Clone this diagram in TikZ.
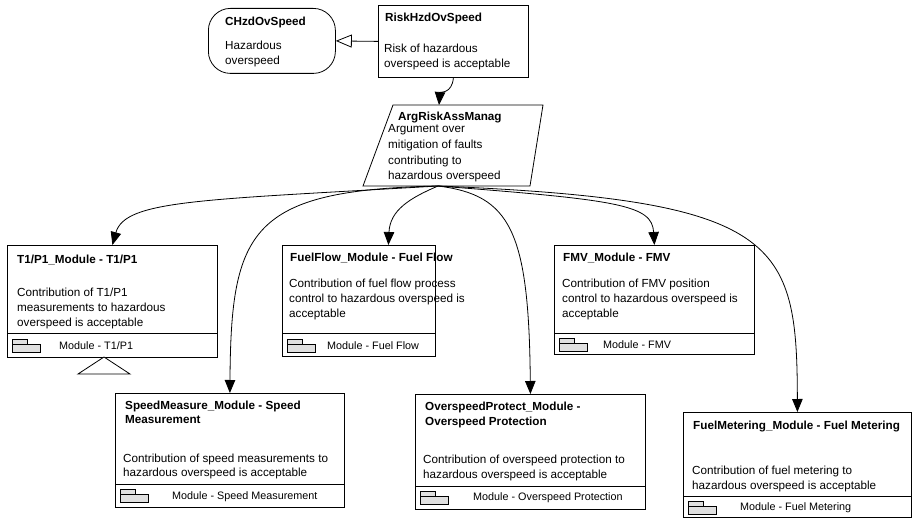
\documentclass[tikz,border=0pt]{standalone}
\usepackage{fontspec}
\setmainfont{Liberation Sans}
\usetikzlibrary{arrows.meta,calc}
% small package glyph in a module footer: #1,#2 = top-left corner of the tab
\newcommand\pkgicon[2]{%
  \draw[pkgglyph] (#1,#2) -- ++(15,0) -- ++(0,5) -- ++(13,0) -- ++(0,8) -- ++(-28,0) -- cycle;
  \draw[line width=0.6pt] (#1,#2+5) -- ++(15,0);}
\begin{document}
\begin{tikzpicture}[x=1pt,y=-1pt,
  txt/.style={anchor=base west,inner sep=0pt,font=\fontsize{11.7}{15}\selectfont},
  ttl/.style={anchor=base west,inner sep=0pt,font=\fontsize{11.7}{15}\selectfont\bfseries},
  ftr/.style={anchor=base west,inner sep=0pt,font=\fontsize{10.8}{13}\selectfont},
  boxline/.style={draw,line width=0.8pt,inner sep=0pt,anchor=north west},
  conn/.style={line width=0.8pt,-{Triangle[length=13pt,width=10.5pt]}},
  ctxarrow/.style={line width=0.8pt,-{Triangle[open,length=16pt,width=13pt]}},
  pkgglyph/.style={draw,line width=0.6pt,fill=black!12}]
\useasboundingbox (0,0) rectangle (913,519);

% ---------- context and goal ----------
\node[boxline,rounded corners=22pt,minimum width=127pt,minimum height=65pt] (ch) at (208,8) {};
\node[ttl] (chT) at (225,26) {CHzdOvSpeed};
\node[txt] (chA) at (225,50) {Hazardous};
\node[txt] (chB) at (225,65) {overspeed};

\node[boxline,minimum width=150pt,minimum height=72pt] (risk) at (378,5) {};
\node[ttl] (riskT) at (385,22) {RiskHzdOvSpeed};
\node[txt] (riskA) at (384,53) {Risk of hazardous};
\node[txt] (riskB) at (384,68) {overspeed is acceptable};

\draw[ctxarrow] (risk.west) -- (ch.east);

% ---------- strategy ----------
\draw[line width=0.8pt] (393,105) -- (543,105) -- (530,186) -- (363,186) -- cycle;
\coordinate (argtop) at (439,105);
\coordinate (argbot) at (438,186);
\node[ttl] (argT) at (398,121) {ArgRiskAssManag};
\node[txt] (argA) at (388,132) {Argument over};
\node[txt] (argB) at (388,148) {mitigation of faults};
\node[txt] (argC) at (388,164) {contributing to};
\node[txt] (argD) at (388,179) {hazardous overspeed};

\draw[conn] (risk.south) .. controls (452,94) and (440,92) .. (argtop);

% ---------- first row of modules ----------
\node[boxline,minimum width=210pt,minimum height=112pt] (t1) at (7,245) {};
\draw[line width=0.8pt] (7,333) -- (217,333);
\node[ttl] (t1T) at (17,263) {T1/P1\_Module - T1/P1};
\node[txt] (t1A) at (17,296) {Contribution of T1/P1};
\node[txt] (t1B) at (17,311) {measurements to hazardous};
\node[txt] (t1C) at (17,326) {overspeed is acceptable};
\pkgicon{12}{339}
\node[ftr] (t1F) at (59,349) {Module - T1/P1};
\draw[line width=0.8pt,fill=white] (104,357) -- (130,374) -- (78,374) -- cycle;

\node[boxline,minimum width=153pt,minimum height=111pt] (ff) at (282,245) {};
\draw[line width=0.8pt] (282,333) -- (435,333);
\node[ttl] (ffT) at (290,261) {FuelFlow\_Module - Fuel Flow};
\node[txt] (ffA) at (289,287) {Contribution of fuel flow process};
\node[txt] (ffB) at (289,302) {control to hazardous overspeed is};
\node[txt] (ffC) at (289,317) {acceptable};
\pkgicon{287}{339}
\node[ftr] (ffF) at (327,349) {Module - Fuel Flow};

\node[boxline,minimum width=200pt,minimum height=109pt] (fmv) at (554,245) {};
\draw[line width=0.8pt] (554,333) -- (754,333);
\node[ttl] (fmvT) at (563,261) {FMV\_Module - FMV};
\node[txt] (fmvA) at (562,287) {Contribution of FMV position};
\node[txt] (fmvB) at (562,302) {control to hazardous overspeed is};
\node[txt] (fmvC) at (562,317) {acceptable};
\pkgicon{559}{338}
\node[ftr] (fmvF) at (603,348) {Module - FMV};

% ---------- second row of modules ----------
\node[boxline,minimum width=229pt,minimum height=114pt] (sm) at (115,393) {};
\draw[line width=0.8pt] (115,484) -- (344,484);
\node[ttl] (smT) at (125,409) {SpeedMeasure\_Module - Speed};
\node[ttl] (smT2) at (125,423) {Measurement};
\node[txt] (smA) at (123,462) {Contribution of speed measurements to};
\node[txt] (smB) at (123,476) {hazardous overspeed is acceptable};
\pkgicon{120}{489}
\node[ftr] (smF) at (172,499) {Module - Speed Measurement};

\node[boxline,minimum width=230pt,minimum height=115pt] (op) at (415,394) {};
\draw[line width=0.8pt] (415,486) -- (645,486);
\node[ttl] (opT) at (425,410) {OverspeedProtect\_Module -};
\node[ttl] (opT2) at (425,425) {Overspeed Protection};
\node[txt] (opA) at (423,463) {Contribution of overspeed protection to};
\node[txt] (opB) at (423,478) {hazardous overspeed is acceptable};
\pkgicon{420}{491}
\node[ftr] (opF) at (473,500) {Module - Overspeed Protection};

\node[boxline,minimum width=228pt,minimum height=105pt] (fm) at (683,412) {};
\draw[line width=0.8pt] (683,496) -- (911,496);
\node[ttl] (fmT) at (693,429) {FuelMetering\_Module - Fuel Metering};
\node[txt] (fmA) at (692,474) {Contribution of fuel metering to};
\node[txt] (fmB) at (692,489) {hazardous overspeed is acceptable};
\pkgicon{688}{501}
\node[ftr] (fmF) at (740,510) {Module - Fuel Metering};

% ---------- supported-by links from the strategy ----------
\draw[conn] (argbot) .. controls (200,200) and (125,200) .. (t1.north);
\draw[conn] (argbot) .. controls (410,198) and (390,210) .. ([xshift=29.5pt]ff.north);
\draw[conn] (argbot) .. controls (620,200) and (652,205) .. (fmv.north);
\draw[conn] (argbot) .. controls (250,190) and (231,230) .. (sm.north);
\draw[conn] (argbot) .. controls (510,195) and (529,230) .. (op.north);
\draw[conn] (argbot) .. controls (780,200) and (797,240) .. (fm.north);
\end{tikzpicture}
\end{document}
